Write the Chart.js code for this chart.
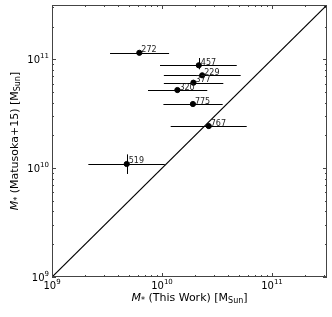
<!DOCTYPE html>
<html>
<head>
<meta charset="utf-8">
<script src="https://cdn.jsdelivr.net/npm/chart.js@4"></script>
<style>
  html, body { margin: 0; padding: 0; background: #fff; }
  #box { width: 332px; height: 317px; }
</style>
</head>
<body>
<div id="box"><canvas id="grafico"></canvas></div>
<script>
// === DATI ===
const galaxyIds = ['272', '457', '229', '377', '320', '775', '767', '519'];
const massThisWork = [6.22e9, 2.16e10, 2.32e10, 1.93e10, 1.38e10, 1.91e10, 2.66e10, 4.78e9];
const massThisLo   = [3.37e9, 9.59e9, 1.04e10, 1.04e10, 7.46e9, 1.03e10, 1.20e10, 2.14e9];
const massThisHi   = [1.16e10, 4.78e10, 5.19e10, 3.61e10, 2.58e10, 3.56e10, 5.89e10, 1.06e10];
const massMatusoka = [1.15e11, 8.83e10, 7.14e10, 6.11e10, 5.23e10, 3.89e10, 2.44e10, 1.093e10];
const massMatLo    = [null, 8.11e10, null, null, null, null, null, 8.85e9];
const massMatHi    = [null, 1.03e11, null, null, null, null, null, 1.34e10];
const axisMin = 1e9;
const axisMax = Math.pow(10, 11.5);
const majorTicks = [1e9, 1e10, 1e11];

const FONT = '"DejaVu Sans", sans-serif';

// tick minori 2..9 x 10^n
function minorTicks() {
  const out = [];
  for (let e = 9; e <= 11; e++) {
    for (let k = 2; k <= 9; k++) {
      const v = k * Math.pow(10, e);
      if (v <= axisMax) out.push(v);
    }
  }
  return out;
}

const snap = v => Math.round(v) + 0.5;

// === PLUGIN: barre d'errore ed etichette ===
const errorBars = {
  id: 'errorBars',
  beforeDatasetsDraw(chart) {
    const { ctx, scales: { x, y } } = chart;
    ctx.save();
    ctx.strokeStyle = '#000';
    ctx.lineWidth = 1;
    massThisWork.forEach((mx, i) => {
      const py = snap(y.getPixelForValue(massMatusoka[i]));
      ctx.beginPath();
      ctx.moveTo(x.getPixelForValue(massThisLo[i]), py);
      ctx.lineTo(x.getPixelForValue(massThisHi[i]), py);
      ctx.stroke();
      if (massMatLo[i] !== null) {
        const px = snap(x.getPixelForValue(mx));
        ctx.beginPath();
        ctx.moveTo(px, y.getPixelForValue(massMatLo[i]));
        ctx.lineTo(px, y.getPixelForValue(massMatHi[i]));
        ctx.stroke();
      }
    });
    ctx.restore();
  },
  afterDatasetsDraw(chart) {
    const { ctx, scales: { x, y } } = chart;
    ctx.save();
    ctx.fillStyle = '#222';
    ctx.font = '8px ' + FONT;
    ctx.textBaseline = 'alphabetic';
    galaxyIds.forEach((id, i) => {
      const px = x.getPixelForValue(massThisWork[i]);
      const py = y.getPixelForValue(massMatusoka[i]);
      ctx.fillText(id, px + 2, py - 0.5);
    });
    ctx.restore();
  }
};

// === PLUGIN: cornice, tick, etichette e titoli ===
function drawPow(ctx, exp, xPos, yBase, align) {
  ctx.font = '10px ' + FONT;
  const wBase = ctx.measureText('10').width;
  ctx.font = '7px ' + FONT;
  const wExp = ctx.measureText(exp).width;
  let left = xPos;
  if (align === 'center') left = xPos - (wBase + wExp) / 2;
  if (align === 'right') left = xPos - (wBase + wExp);
  ctx.textAlign = 'left';
  ctx.font = '10px ' + FONT;
  ctx.fillText('10', left, yBase);
  ctx.font = '7px ' + FONT;
  ctx.fillText(exp, left + wBase, yBase - 5);
}

const frameAxes = {
  id: 'frameAxes',
  afterDraw(chart) {
    const { ctx, chartArea: a, scales: { x, y } } = chart;
    ctx.save();
    ctx.strokeStyle = '#444';
    ctx.lineWidth = 1;
    ctx.strokeRect(a.left + 0.5, a.top + 0.5, a.right - a.left - 1, a.bottom - a.top - 1);

    const drawTicks = (vals, len) => {
      vals.forEach(v => {
        const px = snap(x.getPixelForValue(v));
        const py = snap(y.getPixelForValue(v));
        ctx.beginPath();
        ctx.moveTo(px, a.bottom); ctx.lineTo(px, a.bottom - len);
        ctx.moveTo(px, a.top); ctx.lineTo(px, a.top + len);
        ctx.moveTo(a.left, py); ctx.lineTo(a.left + len, py);
        ctx.moveTo(a.right, py); ctx.lineTo(a.right - len, py);
        ctx.stroke();
      });
    };
    drawTicks(majorTicks, 4);
    drawTicks(minorTicks(), 2);

    ctx.fillStyle = '#000';
    ctx.textBaseline = 'alphabetic';
    majorTicks.forEach(v => {
      const exp = String(Math.round(Math.log10(v)));
      drawPow(ctx, exp, x.getPixelForValue(v), a.bottom + 12, 'center');
      drawPow(ctx, exp, a.left - 3, y.getPixelForValue(v) + 4, 'right');
    });

    // titoli degli assi
    const drawTitle = (cx, cy, bracketLabel) => {
      const parts = [
        { t: 'M', f: 'italic 11px ' + FONT, dy: 0 },
        { t: '*', f: '8px ' + FONT, dy: 2 },
        { t: ' ' + bracketLabel + ' [M', f: '11px ' + FONT, dy: 0 },
        { t: 'Sun', f: '8px ' + FONT, dy: 2 },
        { t: ']', f: '11px ' + FONT, dy: 0 }
      ];
      let w = 0;
      parts.forEach(p => { ctx.font = p.f; w += ctx.measureText(p.t).width; });
      let left = cx - w / 2;
      ctx.textAlign = 'left';
      parts.forEach(p => {
        ctx.font = p.f;
        ctx.fillText(p.t, left, cy + p.dy);
        left += ctx.measureText(p.t).width;
      });
    };
    drawTitle((a.left + a.right) / 2, a.bottom + 24, '(This Work)');

    ctx.translate(18, (a.top + a.bottom) / 2);
    ctx.rotate(-Math.PI / 2);
    drawTitle(0, 0, '(Matusoka+15)');
    ctx.restore();
  }
};

// === GRAFICO ===
const ctx = document.getElementById('grafico').getContext('2d');
new Chart(ctx, {
  type: 'scatter',
  data: {
    datasets: [
      {
        label: 'galaxies',
        data: massThisWork.map((v, i) => ({ x: v, y: massMatusoka[i] })),
        backgroundColor: '#000',
        borderColor: '#000',
        pointRadius: 2.6,
        pointHoverRadius: 2.6
      },
      {
        type: 'line',
        label: '1:1',
        data: [{ x: axisMin, y: axisMin }, { x: axisMax, y: axisMax }],
        borderColor: '#000',
        borderWidth: 1.2,
        pointRadius: 0,
        fill: false
      }
    ]
  },
  options: {
    responsive: true,
    maintainAspectRatio: false,
    animation: false,
    events: [],
    layout: { padding: { top: 5, right: 5, left: 0, bottom: 0 } },
    plugins: { legend: { display: false }, tooltip: { enabled: false } },
    scales: {
      x: {
        type: 'logarithmic',
        min: axisMin,
        max: axisMax,
        grid: { display: false },
        border: { display: false },
        ticks: { display: false },
        afterFit: s => { s.height = 40; }
      },
      y: {
        type: 'logarithmic',
        min: axisMin,
        max: axisMax,
        grid: { display: false },
        border: { display: false },
        ticks: { display: false },
        afterFit: s => { s.width = 52; }
      }
    }
  },
  plugins: [errorBars, frameAxes]
});
</script>
</body>
</html>
